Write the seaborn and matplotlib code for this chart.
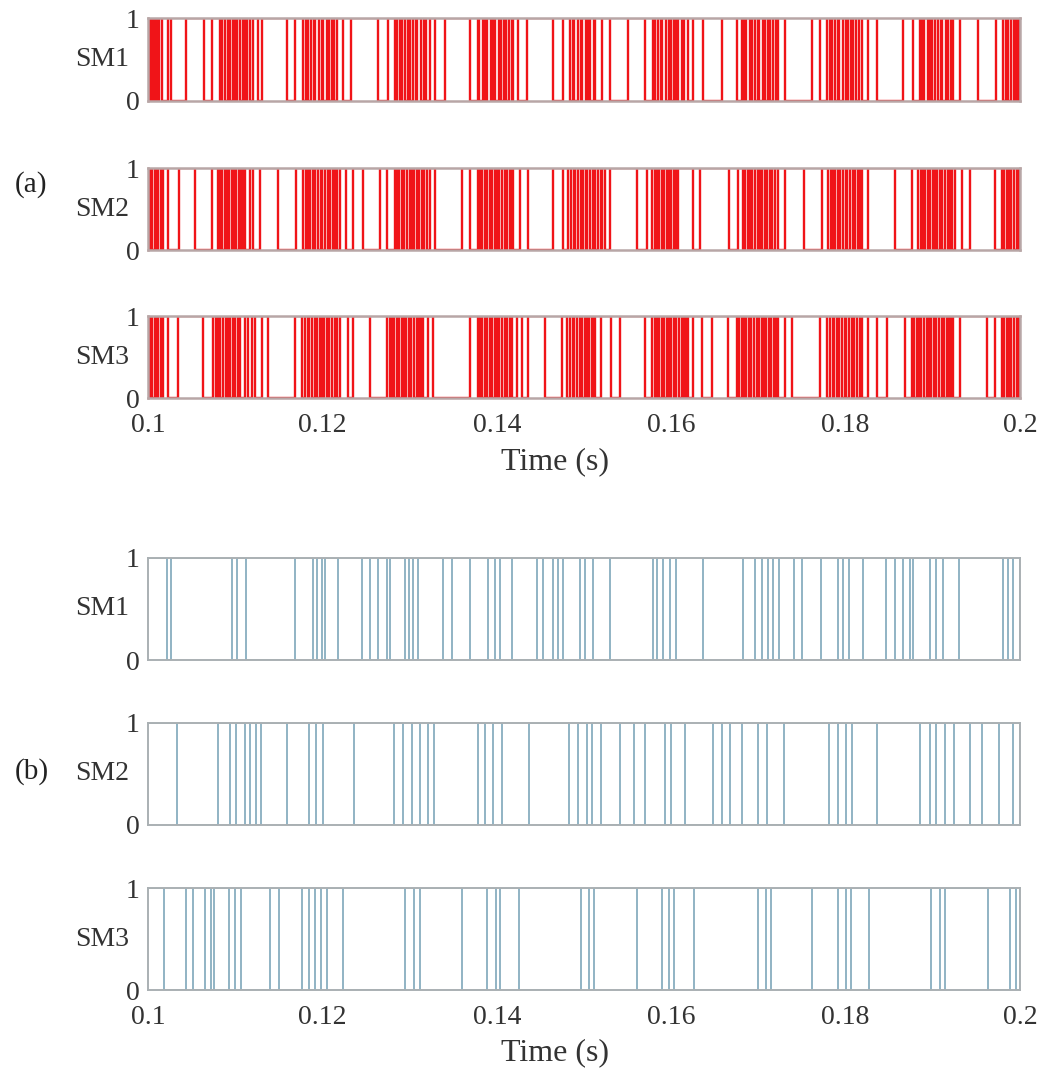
import matplotlib
matplotlib.use("Agg")
import matplotlib.pyplot as plt
import seaborn as sns
import pandas as pd

sns.set_theme(style="white")
plt.rcParams["font.family"] = ["Liberation Serif", "DejaVu Serif"]

# Switching instants (s) of the three submodules, case (a)
sw_a_sm1 = [0.1001, 0.1003, 0.1006, 0.1008, 0.1010, 0.1013, 0.1016,
            0.1023, 0.1026, 0.1044, 0.1064, 0.1073,
            0.1083, 0.1085, 0.1088, 0.1092, 0.1094, 0.1097, 0.1100, 0.1102, 0.1105, 0.1109, 0.1111, 0.1114, 0.1117, 0.1120,
            0.1126, 0.1131, 0.1159, 0.1169,
            0.1178, 0.1181, 0.1183, 0.1187, 0.1190, 0.1192, 0.1196, 0.1199, 0.1201, 0.1205, 0.1208, 0.1211, 0.1213, 0.1217,
            0.1224, 0.1233, 0.1264, 0.1275,
            0.1283, 0.1286, 0.1289, 0.1291, 0.1295, 0.1298, 0.1300, 0.1304, 0.1307, 0.1309, 0.1313, 0.1316, 0.1319, 0.1323,
            0.1329, 0.1341, 0.1369,
            0.1378, 0.1380, 0.1384, 0.1387, 0.1389, 0.1393, 0.1396, 0.1398, 0.1402, 0.1405, 0.1408, 0.1410, 0.1414, 0.1417, 0.1419,
            0.1424, 0.1435, 0.1464, 0.1476,
            0.1484, 0.1487, 0.1489, 0.1493, 0.1496, 0.1498, 0.1502, 0.1505, 0.1507, 0.1511, 0.1513,
            0.1521, 0.1530, 0.1550, 0.1570,
            0.1579, 0.1581, 0.1585, 0.1588, 0.1590, 0.1594, 0.1597, 0.1600, 0.1603, 0.1606, 0.1608, 0.1612, 0.1615, 0.1619,
            0.1625, 0.1636, 0.1658, 0.1675,
            0.1681, 0.1684, 0.1686, 0.1690, 0.1693, 0.1696, 0.1699, 0.1701, 0.1705, 0.1708, 0.1711, 0.1713, 0.1717, 0.1720, 0.1722,
            0.1730, 0.1761, 0.1771,
            0.1779, 0.1782, 0.1784, 0.1788, 0.1791, 0.1793, 0.1797, 0.1800, 0.1803, 0.1806, 0.1808, 0.1812, 0.1815, 0.1819,
            0.1826, 0.1836, 0.1866, 0.1877,
            0.1885, 0.1888, 0.1890, 0.1894, 0.1897, 0.1899, 0.1903, 0.1906, 0.1909, 0.1911, 0.1915, 0.1918, 0.1921, 0.1923,
            0.1931, 0.1952, 0.1972,
            0.1981, 0.1984, 0.1986, 0.1990, 0.1993, 0.1995, 0.1998]

sw_a_sm2 = [0.1001, 0.1003, 0.1005, 0.1008, 0.1010, 0.1012, 0.1015, 0.1017,
            0.1023, 0.1036, 0.1054, 0.1073,
            0.1080, 0.1083, 0.1085, 0.1088, 0.1091, 0.1093, 0.1096, 0.1099, 0.1101, 0.1104, 0.1107, 0.1109, 0.1111,
            0.1117, 0.1120, 0.1128, 0.1149, 0.1170,
            0.1178, 0.1181, 0.1184, 0.1186, 0.1189, 0.1192, 0.1195, 0.1198, 0.1200, 0.1203, 0.1206, 0.1209, 0.1212, 0.1214, 0.1217, 0.1220,
            0.1227, 0.1235, 0.1247, 0.1266, 0.1274,
            0.1283, 0.1286, 0.1288, 0.1291, 0.1294, 0.1297, 0.1300, 0.1303, 0.1305, 0.1308, 0.1311, 0.1314, 0.1317, 0.1320, 0.1323,
            0.1329, 0.1360, 0.1369,
            0.1378, 0.1381, 0.1383, 0.1386, 0.1389, 0.1392, 0.1395, 0.1398, 0.1400, 0.1403, 0.1406, 0.1409, 0.1412, 0.1415, 0.1417, 0.1419,
            0.1427, 0.1436, 0.1464, 0.1476,
            0.1482, 0.1485, 0.1488, 0.1490, 0.1493, 0.1496, 0.1499, 0.1502, 0.1504, 0.1507, 0.1510, 0.1513, 0.1516, 0.1519, 0.1521, 0.1524,
            0.1530, 0.1561, 0.1572,
            0.1578, 0.1581, 0.1584, 0.1586, 0.1589, 0.1592, 0.1595, 0.1598, 0.1600, 0.1603, 0.1606, 0.1608,
            0.1625, 0.1633, 0.1666, 0.1677,
            0.1682, 0.1685, 0.1688, 0.1690, 0.1693, 0.1696, 0.1699, 0.1702, 0.1704, 0.1707, 0.1710, 0.1713, 0.1716, 0.1719, 0.1722,
            0.1730, 0.1752, 0.1773,
            0.1780, 0.1783, 0.1786, 0.1788, 0.1791, 0.1794, 0.1797, 0.1800, 0.1802, 0.1805, 0.1808, 0.1811, 0.1814, 0.1817, 0.1819,
            0.1826, 0.1857, 0.1876,
            0.1883, 0.1886, 0.1889, 0.1891, 0.1894, 0.1897, 0.1900, 0.1903, 0.1905, 0.1908, 0.1911, 0.1914, 0.1917, 0.1920, 0.1922, 0.1925,
            0.1933, 0.1943, 0.1971,
            0.1979, 0.1982, 0.1985, 0.1987, 0.1990, 0.1993, 0.1996, 0.1999]

sw_a_sm3 = [0.1001, 0.1003, 0.1005, 0.1008, 0.1010, 0.1012, 0.1015, 0.1017,
            0.1023, 0.1034, 0.1063,
            0.1075, 0.1078, 0.1080, 0.1083, 0.1086, 0.1089, 0.1092, 0.1094, 0.1097, 0.1100, 0.1103, 0.1106,
            0.1111, 0.1115, 0.1119, 0.1123, 0.1131, 0.1138, 0.1169,
            0.1177, 0.1180, 0.1183, 0.1185, 0.1188, 0.1191, 0.1194, 0.1197, 0.1199, 0.1202, 0.1205, 0.1208, 0.1211, 0.1214, 0.1217, 0.1220,
            0.1229, 0.1235, 0.1255,
            0.1274, 0.1277, 0.1280, 0.1282, 0.1285, 0.1288, 0.1291, 0.1294, 0.1296, 0.1299, 0.1302, 0.1305, 0.1308, 0.1311, 0.1313, 0.1315,
            0.1321, 0.1327, 0.1369,
            0.1378, 0.1381, 0.1383, 0.1386, 0.1389, 0.1392, 0.1395, 0.1398, 0.1400, 0.1403, 0.1406, 0.1409, 0.1412, 0.1415, 0.1417,
            0.1423, 0.1429, 0.1436, 0.1455, 0.1475,
            0.1481, 0.1484, 0.1487, 0.1489, 0.1492, 0.1495, 0.1498, 0.1501, 0.1503, 0.1506, 0.1509, 0.1511, 0.1513,
            0.1520, 0.1531, 0.1541, 0.1570,
            0.1578, 0.1581, 0.1584, 0.1586, 0.1589, 0.1592, 0.1595, 0.1598, 0.1600, 0.1603, 0.1606, 0.1609, 0.1612, 0.1615, 0.1617, 0.1619,
            0.1625, 0.1635, 0.1647, 0.1665,
            0.1675, 0.1678, 0.1681, 0.1684, 0.1686, 0.1689, 0.1692, 0.1695, 0.1698, 0.1701, 0.1704, 0.1706, 0.1709, 0.1712, 0.1715, 0.1718, 0.1720, 0.1722,
            0.1730, 0.1739, 0.1771,
            0.1779, 0.1782, 0.1785, 0.1787, 0.1790, 0.1793, 0.1796, 0.1799, 0.1801, 0.1804, 0.1807, 0.1810, 0.1813, 0.1816, 0.1819,
            0.1826, 0.1836, 0.1847, 0.1868,
            0.1876, 0.1879, 0.1882, 0.1884, 0.1887, 0.1890, 0.1893, 0.1896, 0.1898, 0.1901, 0.1904, 0.1907, 0.1910, 0.1913, 0.1916, 0.1919, 0.1921, 0.1923,
            0.1931, 0.1962, 0.1971,
            0.1979, 0.1982, 0.1985, 0.1987, 0.1990, 0.1993, 0.1996, 0.1999]

# Switching instants (s) of the three submodules, case (b)
sw_b_sm1 = [0.1022, 0.1026, 0.1096, 0.1102, 0.1112, 0.1169, 0.1189, 0.1194, 0.1200, 0.1203,
            0.1218, 0.1245, 0.1255, 0.1264, 0.1274, 0.1278, 0.1295, 0.1299, 0.1304, 0.1310,
            0.1338, 0.1349, 0.1369, 0.1390, 0.1398, 0.1404, 0.1417, 0.1446, 0.1453, 0.1464,
            0.1470, 0.1476, 0.1495, 0.1501, 0.1510, 0.1530, 0.1579, 0.1584, 0.1591, 0.1599,
            0.1606, 0.1636, 0.1682, 0.1696, 0.1704, 0.1711, 0.1717, 0.1724, 0.1741, 0.1750,
            0.1772, 0.1791, 0.1797, 0.1804, 0.1820, 0.1846, 0.1857, 0.1866, 0.1874, 0.1877,
            0.1897, 0.1904, 0.1912, 0.1930, 0.1981, 0.1986, 0.1992]

sw_b_sm2 = [0.1033, 0.1080, 0.1094, 0.1101, 0.1111, 0.1117, 0.1124, 0.1130, 0.1159, 0.1185,
            0.1193, 0.1201, 0.1236, 0.1282, 0.1292, 0.1303, 0.1312, 0.1321, 0.1328, 0.1378,
            0.1386, 0.1396, 0.1406, 0.1437, 0.1483, 0.1493, 0.1503, 0.1509, 0.1519, 0.1541,
            0.1557, 0.1570, 0.1593, 0.1600, 0.1616, 0.1648, 0.1658, 0.1667, 0.1681, 0.1700,
            0.1710, 0.1729, 0.1781, 0.1791, 0.1800, 0.1807, 0.1836, 0.1885, 0.1897, 0.1904,
            0.1914, 0.1924, 0.1943, 0.1956, 0.1976, 0.1992]

sw_b_sm3 = [0.1018, 0.1044, 0.1052, 0.1065, 0.1072, 0.1076, 0.1093, 0.1100, 0.1107, 0.1140,
            0.1150, 0.1177, 0.1185, 0.1192, 0.1198, 0.1205, 0.1224, 0.1295, 0.1305, 0.1312,
            0.1360, 0.1389, 0.1399, 0.1404, 0.1425, 0.1496, 0.1506, 0.1512, 0.1561, 0.1590,
            0.1597, 0.1603, 0.1626, 0.1700, 0.1709, 0.1715, 0.1761, 0.1791, 0.1800, 0.1806,
            0.1827, 0.1898, 0.1908, 0.1914, 0.1963, 0.1989, 0.1995]

module_names = ["SM1", "SM2", "SM3"]
panel_tags = ["(a)", "(b)"]
t_start, t_end = 0.1, 0.2
x_ticks = [0.1, 0.12, 0.14, 0.16, 0.18, 0.2]
x_tick_labels = ["0.1", "0.12", "0.14", "0.16", "0.18", "0.2"]

panels = [
    {"signals": [sw_a_sm1, sw_a_sm2, sw_a_sm3], "color": "#f01418", "lw": 1.7,
     "frame": "#b8a6a6", "frame_lw": 1.8,
     "rows": [(18, 101), (168, 250), (316, 398)], "tag_y": 185, "xlab_y": 462},
    {"signals": [sw_b_sm1, sw_b_sm2, sw_b_sm3], "color": "#88aebf", "lw": 1.3,
     "frame": "#aab0b3", "frame_lw": 1.4,
     "rows": [(558, 660), (723, 825), (888, 990)], "tag_y": 772, "xlab_y": 1053},
]

W, H = 1045, 1070
fig = plt.figure(figsize=(W / 100, H / 100), dpi=100)
fs = 20
left_px, right_px = 148, 1020


def gate_frame(switches):
    """Two-level gate signal starting high, toggling at each switching instant."""
    times = [t_start] + list(switches) + [t_end]
    states = [(i + 1) % 2 for i in range(len(times))]
    return pd.DataFrame({"t": times, "s": states})


for p_idx, panel in enumerate(panels):
    for r_idx, (sw, (top, bot)) in enumerate(zip(panel["signals"], panel["rows"])):
        ax = fig.add_axes([left_px / W, 1 - bot / H, (right_px - left_px) / W, (bot - top) / H])
        df = gate_frame(sw)
        sns.lineplot(data=df, x="t", y="s", ax=ax, estimator=None, sort=False,
                     drawstyle="steps-post", color=panel["color"], linewidth=panel["lw"])
        ax.set_xlim(t_start, t_end)
        ax.set_ylim(0, 1)
        ax.set_yticks([0, 1])
        ax.set_yticklabels(["0", "1"])
        ax.tick_params(axis="y", length=0, labelsize=fs, colors="#333333", pad=6)
        ax.tick_params(axis="x", length=0, labelsize=fs, colors="#333333", pad=11)
        for sp in ax.spines.values():
            sp.set_color(panel["frame"])
            sp.set_linewidth(panel["frame_lw"])
            sp.set_visible(True)
            sp.set_zorder(3)
        ax.set_ylabel(module_names[r_idx], rotation=0, fontsize=fs, color="#333333",
                      ha="right", va="center")
        ax.yaxis.set_label_coords(-0.022, 0.5)
        ax.set_xticks(x_ticks)
        if r_idx == 2:
            ax.set_xticklabels(x_tick_labels)
        else:
            ax.set_xticklabels([])
        ax.set_xlabel("")
        ax.grid(False)
    fig.text(555 / W, 1 - panel["xlab_y"] / H, "Time (s)", fontsize=23,
             color="#333333", ha="center", va="center")
    fig.text(15 / W, 1 - panel["tag_y"] / H, panel_tags[p_idx], fontsize=21,
             color="#222222", ha="left", va="center")

fig.savefig("out.png", dpi=100, facecolor="white")
